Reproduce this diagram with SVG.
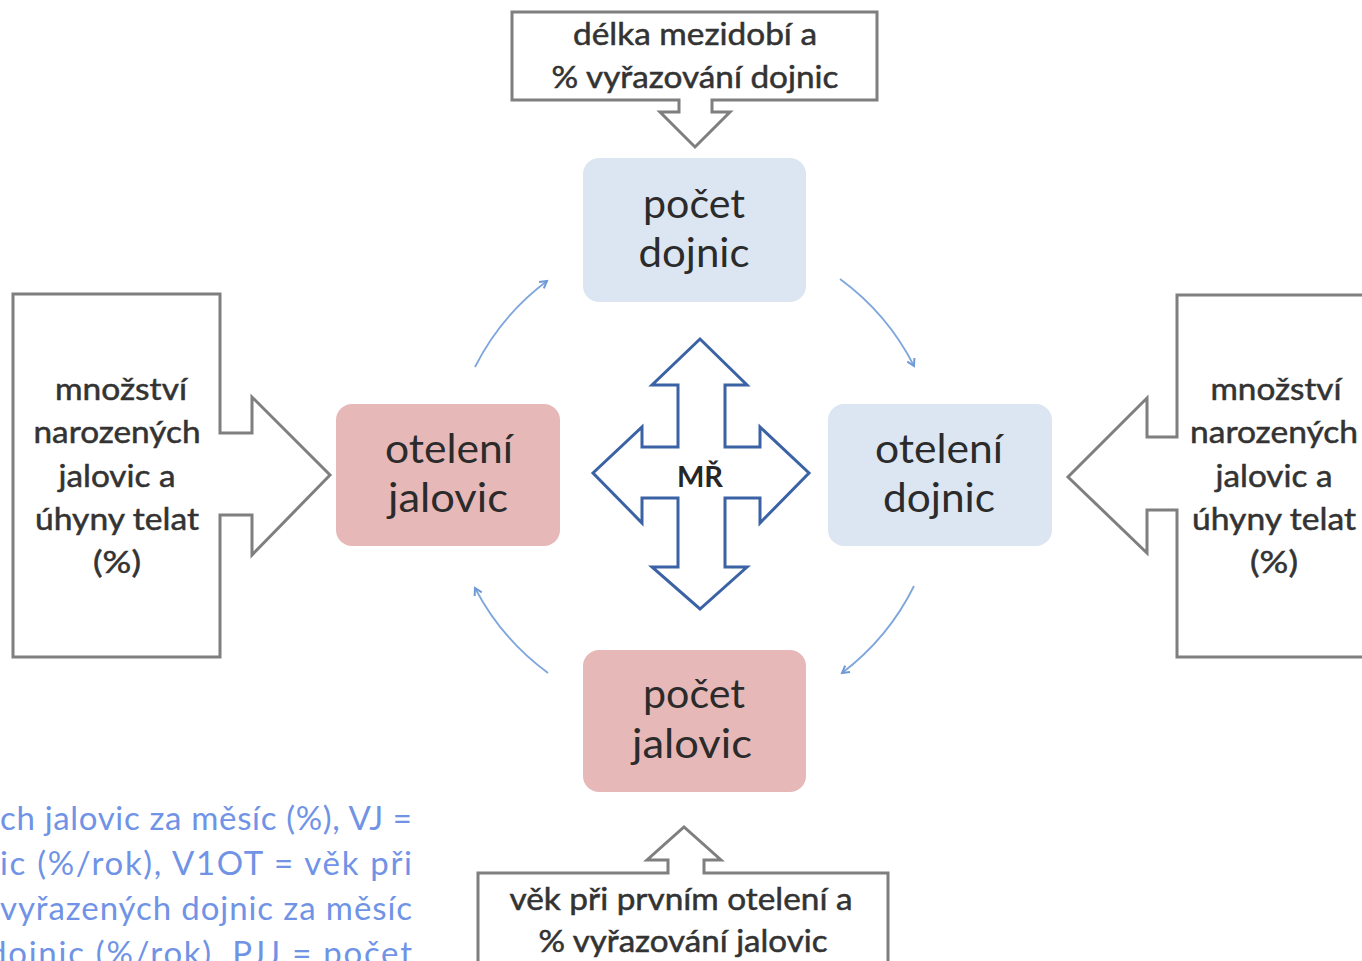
<svg xmlns="http://www.w3.org/2000/svg" width="1362" height="961" viewBox="0 0 1362 961">
<defs>
<style>
.callout{fill:#fff;stroke:#7f7f7f;stroke-width:3;stroke-linejoin:miter}
.ct{font-family:Lato,"Open Sans","Liberation Sans",sans-serif;font-size:30px;fill:#333;stroke:#333;stroke-width:0.5;text-anchor:middle}
.nt{font-family:Lato,"Open Sans","Liberation Sans",sans-serif;font-size:41px;fill:#2b2b2b;text-anchor:middle}
.blue{fill:#dce6f2}
.pink{fill:#e6b9b8}
.cap{font-family:Lato,"Open Sans","Liberation Sans",sans-serif;font-size:33px;fill:#7093e6}
.cyc{fill:none;stroke:#7ea6dc;stroke-width:1.8}
</style>
<marker id="ah" viewBox="0 0 10 10" refX="8" refY="5" markerWidth="10" markerHeight="10" orient="auto" markerUnits="userSpaceOnUse">
<path d="M1,1 L8,5 L1,9" fill="none" stroke="#6f9ad6" stroke-width="2"/>
</marker>
</defs>
<rect width="1362" height="961" fill="#fff"/>

<g id="top-callout">
<path class="callout" d="M512,12 H877 V100 H712 V112 H730 L695,147 L660,112 H679 V100 H512 Z"/>
<text class="ct" x="695" y="45" textLength="244" lengthAdjust="spacingAndGlyphs">délka mezidobí a</text>
<text class="ct" x="695" y="88" textLength="287" lengthAdjust="spacingAndGlyphs">% vyřazování dojnic</text>
</g>

<g id="left-callout">
<path class="callout" d="M13,294 H220 V433 H252 V397 L330,475 L252,555 V515 H220 V657 H13 Z"/>
<text class="ct" x="121" y="400" textLength="132" lengthAdjust="spacingAndGlyphs">množství</text>
<text class="ct" x="117" y="443" textLength="167" lengthAdjust="spacingAndGlyphs">narozených</text>
<text class="ct" x="117" y="487" textLength="117" lengthAdjust="spacingAndGlyphs">jalovic a</text>
<text class="ct" x="117" y="530" textLength="164" lengthAdjust="spacingAndGlyphs">úhyny telat</text>
<text class="ct" x="117" y="573" textLength="48" lengthAdjust="spacingAndGlyphs">(%)</text>
</g>

<g id="right-callout">
<path class="callout" d="M1177,295 H1372 V657 H1177 V510 H1147 V553 L1068,477 L1147,398 V437 H1177 Z"/>
<text class="ct" x="1276" y="400" textLength="131" lengthAdjust="spacingAndGlyphs">množství</text>
<text class="ct" x="1274" y="443" textLength="168" lengthAdjust="spacingAndGlyphs">narozených</text>
<text class="ct" x="1274" y="487" textLength="117" lengthAdjust="spacingAndGlyphs">jalovic a</text>
<text class="ct" x="1274" y="530" textLength="164" lengthAdjust="spacingAndGlyphs">úhyny telat</text>
<text class="ct" x="1274" y="573" textLength="48" lengthAdjust="spacingAndGlyphs">(%)</text>
</g>

<g id="bottom-callout">
<path class="callout" d="M478,873 H668 V860 H647 L684,827 L721,860 H704 V873 H888 V975 H478 Z"/>
<text class="ct" x="681" y="910" textLength="343" lengthAdjust="spacingAndGlyphs">věk při prvním otelení a</text>
<text class="ct" x="683" y="952" textLength="289" lengthAdjust="spacingAndGlyphs">% vyřazování jalovic</text>
</g>

<g id="pocet-dojnic">
<rect class="blue" x="583" y="158" width="223" height="144" rx="16"/>
<text class="nt" x="694" y="218" textLength="102" lengthAdjust="spacingAndGlyphs">počet</text>
<text class="nt" x="694" y="267" textLength="111" lengthAdjust="spacingAndGlyphs">dojnic</text>
</g>

<g id="oteleni-dojnic">
<rect class="blue" x="828" y="404" width="224" height="142" rx="16"/>
<text class="nt" x="939" y="463" textLength="128" lengthAdjust="spacingAndGlyphs">otelení</text>
<text class="nt" x="939" y="512" textLength="112" lengthAdjust="spacingAndGlyphs">dojnic</text>
</g>

<g id="oteleni-jalovic">
<rect class="pink" x="336" y="404" width="224" height="142" rx="16"/>
<text class="nt" x="449" y="463" textLength="128" lengthAdjust="spacingAndGlyphs">otelení</text>
<text class="nt" x="448" y="512" textLength="120" lengthAdjust="spacingAndGlyphs">jalovic</text>
</g>

<g id="pocet-jalovic">
<rect class="pink" x="583" y="650" width="223" height="142" rx="16"/>
<text class="nt" x="694" y="708" textLength="102" lengthAdjust="spacingAndGlyphs">počet</text>
<text class="nt" x="692" y="758" textLength="120" lengthAdjust="spacingAndGlyphs">jalovic</text>
</g>

<g id="mr">
<path d="M700,339 L747,385 H725 V447 H760 V427 L809,473 L760,523 V498 H725 V567 H747 L700,609 L652,567 H678 V498 H642 V523 L593,473 L642,427 V447 H678 V385 H652 Z" fill="#fff" stroke="#3a62a4" stroke-width="3" stroke-linejoin="miter"/>
<text x="700" y="487" text-anchor="middle" font-family="Lato,'Liberation Sans',sans-serif" font-weight="bold" font-size="29" fill="#262626">MŘ</text>
</g>

<g id="connectors">
<path class="cyc" marker-end="url(#ah)" d="M475,367 A245,245 0 0 1 547,281"/>
<path class="cyc" marker-end="url(#ah)" d="M840,279 A245,245 0 0 1 914,366"/>
<path class="cyc" marker-end="url(#ah)" d="M914,586 A246,246 0 0 1 842,673"/>
<path class="cyc" marker-end="url(#ah)" d="M548,673 A246,246 0 0 1 475,588"/>
</g>

<g id="caption">
<text class="cap" x="0" y="830" textLength="412" lengthAdjust="spacing">ch jalovic za měsíc (%), VJ =</text>
<text class="cap" x="0" y="875" textLength="412" lengthAdjust="spacing">ic (%/rok), V1OT = věk při</text>
<text class="cap" x="0" y="920" textLength="412" lengthAdjust="spacing">vyřazených dojnic za měsíc</text>
<text class="cap" x="-12" y="965" textLength="424" lengthAdjust="spacing">dojnic (%/rok), PJJ = počet</text>
</g>
</svg>
